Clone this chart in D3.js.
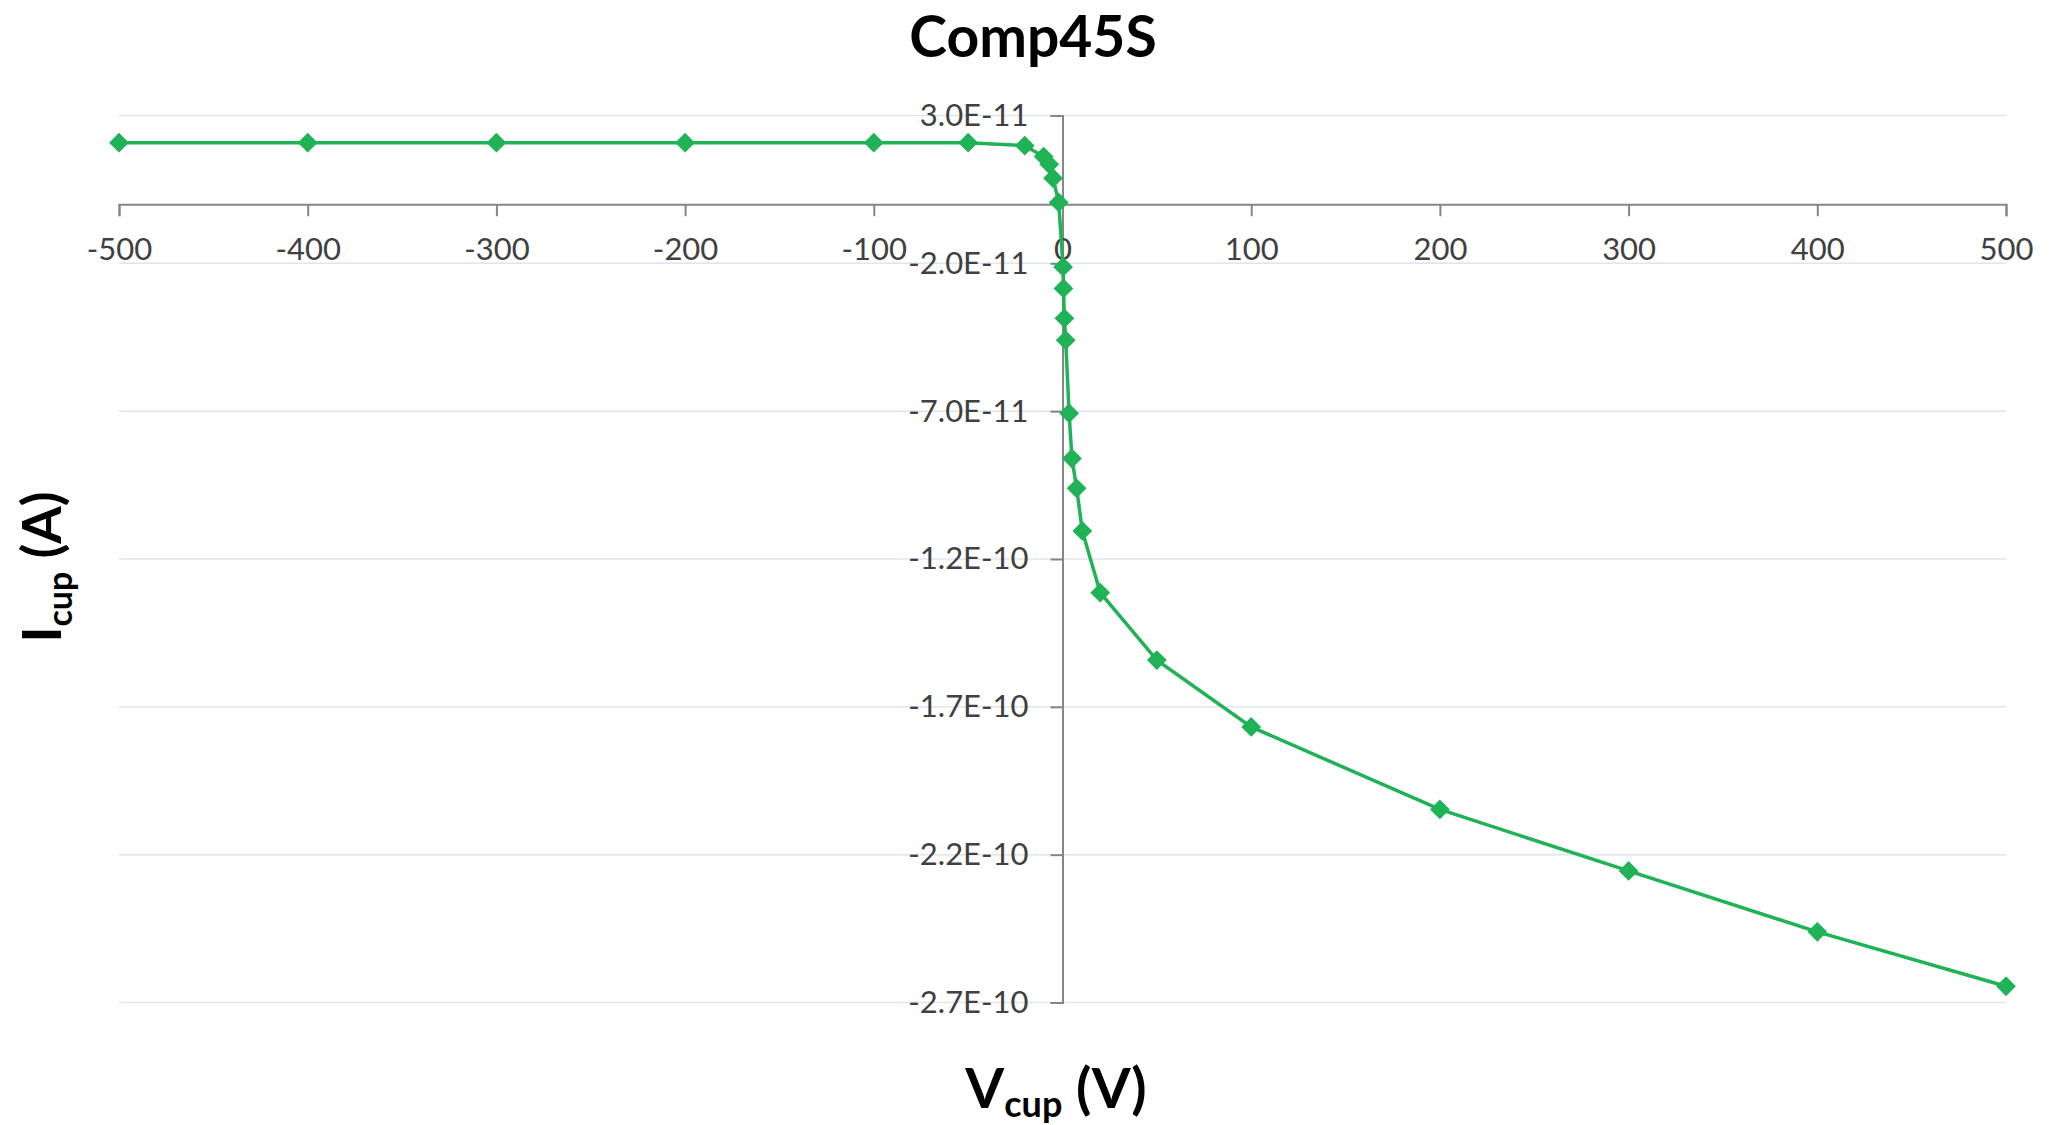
<!DOCTYPE html>
<html>
<head>
<meta charset="utf-8">
<script src="https://cdn.jsdelivr.net/npm/d3@7"></script>
<style>
  body { margin: 0; background: #fff; }
  svg { font-family: Lato, "Open Sans", sans-serif; }
</style>
</head>
<body>
<script>
const voltage = [-500, -400, -300, -200, -100, -50, -20, -10, -7, -5, -2,
                 0.3, 0.5, 1, 1.7, 3.5, 5, 7.5, 10.5, 20, 50, 100, 200, 300, 400, 500];
const current = [2.08e-11, 2.08e-11, 2.08e-11, 2.08e-11, 2.08e-11, 2.08e-11, 1.98e-11, 1.61e-11, 1.35e-11, 0.88e-11, 0.06e-11,
                 -2.12e-11, -2.85e-11, -3.86e-11, -4.60e-11, -7.07e-11, -8.60e-11, -9.61e-11, -1.105e-10, -1.314e-10,
                 -1.542e-10, -1.768e-10, -2.047e-10, -2.255e-10, -2.461e-10, -2.645e-10];
const xTicks = [-500, -400, -300, -200, -100, 0, 100, 200, 300, 400, 500];
const yTicks = [3e-11, -2e-11, -7e-11, -1.2e-10, -1.7e-10, -2.2e-10, -2.7e-10];

const W = 2050, H = 1125;
const plotL = 119, plotR = 2006, plotT = 115.5, plotB = 1002.5;

const svg = d3.select("body").append("svg")
  .attr("width", W)
  .attr("height", H);

const x = d3.scaleLinear().domain([-500, 500]).range([plotL, plotR]);
const y = d3.scaleLinear().domain([-2.7e-10, 3e-11]).range([plotB, plotT]);

// 3.0E-11 style labels (plain hyphen, like Excel)
function sci(v) {
  if (v === 0) return "0";
  let e = Math.floor(Math.log10(Math.abs(v)));
  let m = v / Math.pow(10, e);
  if (Math.abs(m) >= 9.995) { e += 1; m = v / Math.pow(10, e); }
  return m.toFixed(1) + "E" + (e < 0 ? "-" : "+") + String(Math.abs(e)).padStart(2, "0");
}

// horizontal gridlines
svg.append("g")
  .selectAll("line")
  .data(yTicks)
  .join("line")
    .attr("x1", plotL).attr("x2", plotR)
    .attr("y1", d => y(d)).attr("y2", d => y(d))
    .attr("stroke", "#dde6ef")
    .attr("stroke-width", 1.5);

// y axis sits on V = 0
const yAxis = svg.append("g")
  .attr("transform", `translate(${x(0)},0)`)
  .call(d3.axisLeft(y).tickValues(yTicks).tickFormat(sci).tickSize(12).tickPadding(22));

// x axis sits on I = 0
const xAxis = svg.append("g")
  .attr("transform", `translate(0,${y(0)})`)
  .call(d3.axisBottom(x).tickValues(xTicks).tickFormat(d => String(d)).tickSize(12).tickPadding(22));

[xAxis, yAxis].forEach(g => {
  g.select(".domain").attr("stroke", "#868686").attr("stroke-width", 2);
  g.selectAll(".tick line").attr("stroke", "#868686").attr("stroke-width", 2);
  g.selectAll(".tick text")
    .attr("fill", "#404040")
    .style("font-size", "31px")
    .style("font-family", "Lato, 'Open Sans', sans-serif");
});

// series
const pts = voltage.map((v, i) => [v, current[i]]);
const green = "#1fb256";

svg.append("path")
  .datum(pts)
  .attr("fill", "none")
  .attr("stroke", green)
  .attr("stroke-width", 3.5)
  .attr("d", d3.line().x(d => x(d[0])).y(d => y(d[1])));

svg.append("g")
  .selectAll("path")
  .data(pts)
  .join("path")
    .attr("transform", d => `translate(${x(d[0])},${y(d[1])})`)
    .attr("d", d3.symbol().type(d3.symbolDiamond2).size(250))
    .attr("fill", green);

// title
svg.append("text")
  .attr("x", 1033).attr("y", 57)
  .attr("text-anchor", "middle")
  .style("font-size", "57px")
  .style("font-weight", "bold")
  .attr("fill", "#000")
  .text("Comp45S");

// x axis title
const xt = svg.append("text")
  .attr("x", 1056).attr("y", 1108)
  .attr("text-anchor", "middle")
  .style("font-size", "56px")
  .style("font-weight", "bold")
  .attr("fill", "#000");
xt.append("tspan").text("V");
xt.append("tspan").attr("dy", 9).style("font-size", "36px").text("cup");
xt.append("tspan").attr("dy", -9).text(" (V)");

// y axis title
const yt = svg.append("text")
  .attr("transform", "translate(61,567) rotate(-90)")
  .attr("text-anchor", "middle")
  .style("font-size", "54px")
  .style("font-weight", "bold")
  .attr("fill", "#000");
yt.append("tspan").text("I");
yt.append("tspan").attr("dy", 11).style("font-size", "34px").text("cup");
yt.append("tspan").attr("dy", -11).text(" (A)");
</script>
</body>
</html>
